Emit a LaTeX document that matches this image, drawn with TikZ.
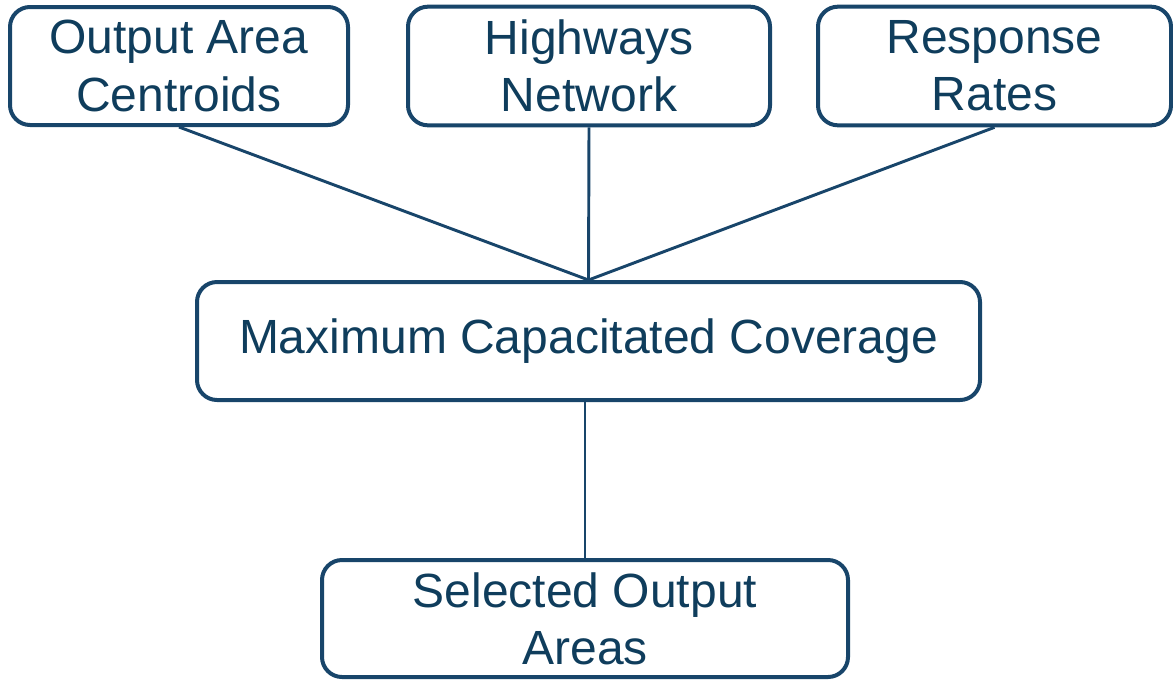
\documentclass[tikz,border=0pt]{standalone}
\usepackage{fontspec}
\setmainfont{Liberation Sans}
\usepackage{xcolor}
\definecolor{boxline}{HTML}{18456A}
\definecolor{boxtext}{HTML}{0F3D5C}

\begin{document}
\begin{tikzpicture}[x=0.75pt, y=-0.75pt,
        block/.style={draw=boxline, line width=3pt, rounded corners=15pt,
            text=boxtext, align=center, inner sep=0pt,
            font=\fontsize{36}{43}\selectfont},
        link/.style={draw=boxline, line width=2.2pt}]
    \useasboundingbox (0,0) rectangle (1173,679);
    \node[block, minimum width=253.5pt, minimum height=88.5pt] (oac) at (179,66) {Output Area\\Centroids};
    \node[block, minimum width=271.5pt, minimum height=89pt] (hwy) at (589,66) {Highways\\Network};
    \node[block, minimum width=264.75pt, minimum height=89pt] (rr) at (994.5,66) {Response\\Rates};
    \node[block, minimum width=587.25pt, minimum height=88.5pt] (mcc) at (588.5,341) {Maximum Capacitated Coverage};
    \node[block, minimum width=394.5pt, minimum height=87.75pt] (soa) at (585,618.5) {Selected Output\\Areas};
    \draw[link] (oac.south) -- (mcc.north);
    \draw[link] (hwy.south) -- (mcc.north);
    \draw[link] (rr.south) -- (mcc.north);
    \draw[link] (soa.north |- mcc.south) -- (soa.north);
\end{tikzpicture}
\end{document}
